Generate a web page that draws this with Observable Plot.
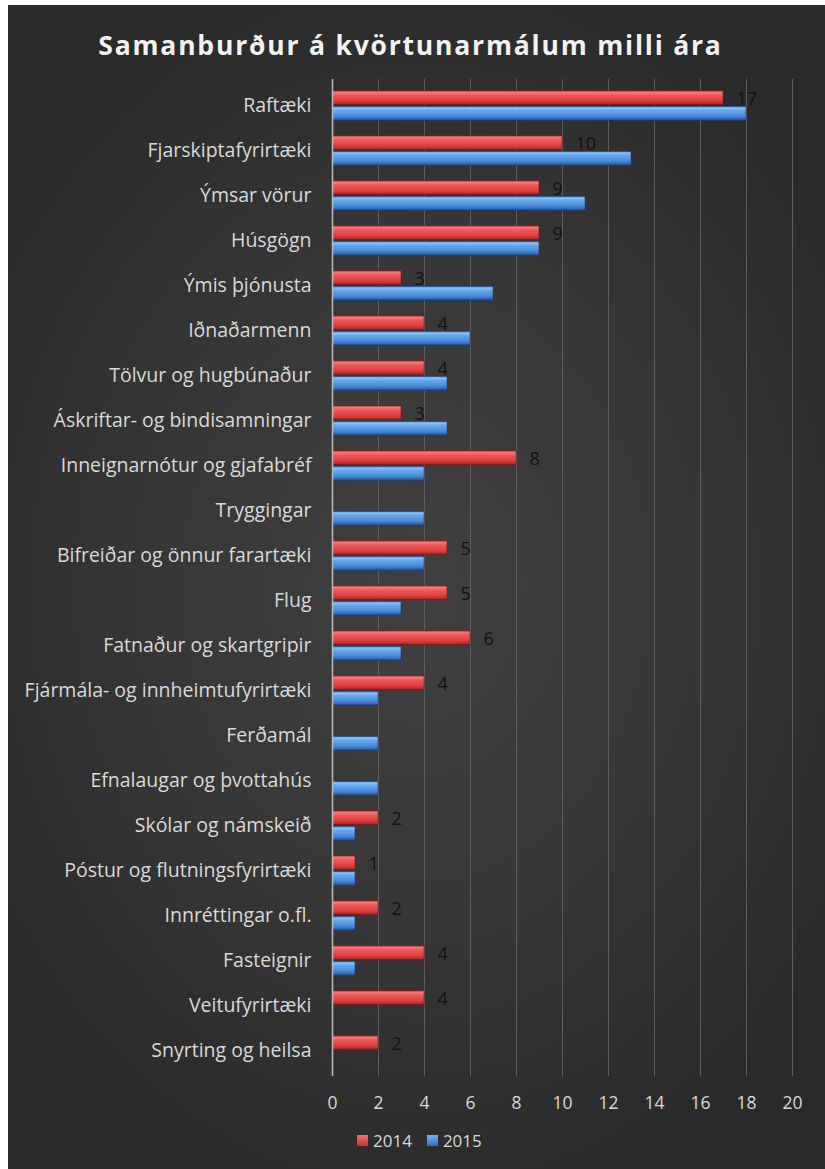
<!DOCTYPE html>
<html>
<head>
<meta charset="utf-8">
<script src="https://cdn.jsdelivr.net/npm/d3@7"></script>
<script src="https://cdn.jsdelivr.net/npm/@observablehq/plot@0.6"></script>
<style>
  body { margin: 0; background: #ffffff; width: 825px; height: 1169px; overflow: hidden; }
  #panel { position: absolute; left: 8px; top: 5px; width: 817px; height: 1164px;
    background: radial-gradient(ellipse 62% 55% at 50% 50%, #404040 0%, #373737 50%, #2a2a2a 100%);
    font-family: "Open Sans", "Noto Sans", sans-serif; }
  #title { position: absolute; top: 22px; left: 0; width: 805px; text-align: center;
    font-size: 26.5px; font-weight: 700; letter-spacing: 1.8px; color: #f2f2f2; line-height: 36px; }
  #chart { position: absolute; left: 0; top: 0; }
  #legend { position: absolute; left: 349px; top: 1124px; font-size: 17px; color: #d9d9d9;
    display: flex; align-items: center; }
  .sw { display: inline-block; width: 11px; height: 11px; margin-right: 5px; }
  #chart svg g[aria-label="y-axis tick label"] text, #chart svg g[aria-label="y-axis"] text { font-size: 19.5px; }
  #chart svg g[aria-label="x-axis tick label"] text, #chart svg g[aria-label="x-axis"] text { font-size: 17.5px; }
</style>
</head>
<body>
<div id="panel">
  <div id="title">Samanburður á kvörtunarmálum milli ára</div>
  <div id="chart"></div>
  <div id="legend">
    <span class="sw" style="background:linear-gradient(#f07070,#c83030)"></span><span style="margin-right:15px">2014</span>
    <span class="sw" style="background:linear-gradient(#7ab4f0,#2e6cc0)"></span><span>2015</span>
  </div>
</div>
<script>
const categories = [
  "Raftæki", "Fjarskiptafyrirtæki", "Ýmsar vörur", "Húsgögn", "Ýmis þjónusta",
  "Iðnaðarmenn", "Tölvur og hugbúnaður", "Áskriftar- og bindisamningar",
  "Inneignarnótur og gjafabréf", "Tryggingar", "Bifreiðar og önnur farartæki",
  "Flug", "Fatnaður og skartgripir", "Fjármála- og innheimtufyrirtæki", "Ferðamál",
  "Efnalaugar og þvottahús", "Skólar og námskeið", "Póstur og flutningsfyrirtæki",
  "Innréttingar o.fl.", "Fasteignir", "Veitufyrirtæki", "Snyrting og heilsa"
];
const values2014 = [17, 10, 9, 9, 3, 4, 4, 3, 8, 0, 5, 5, 6, 4, 0, 0, 2, 1, 2, 4, 4, 2];
const values2015 = [18, 13, 11, 9, 7, 6, 5, 5, 4, 4, 4, 3, 3, 2, 2, 2, 1, 1, 1, 1, 0, 0];
const xTicks = [0, 2, 4, 6, 8, 10, 12, 14, 16, 18, 20];

const d14 = categories.map((c, i) => ({cat: c, v: values2014[i]})).filter(d => d.v > 0);
const d15 = categories.map((c, i) => ({cat: c, v: values2015[i]})).filter(d => d.v > 0);

const bw = 997 / 22;
const half = bw / 2;

const chart = Plot.plot({
  width: 817,
  height: 1115,
  marginTop: 74,
  marginBottom: 44,
  marginLeft: 324,
  marginRight: 33,
  style: { background: "transparent", color: "#d9d9d9", fontFamily: "'Open Sans', 'Noto Sans', sans-serif" },
  x: { domain: [0, 20], ticks: xTicks, grid: false, label: null, tickSize: 0, tickPadding: 20 },
  y: { domain: categories, padding: 0, label: null, tickSize: 0, tickPadding: 21 },
  marks: [
    Plot.ruleX(xTicks.filter(t => t > 0), { stroke: "#5e5e5e", strokeWidth: 1 }),
    Plot.barX(d15, { x: "v", y: "cat", fill: "url(#g15)", insetTop: half + 0.5, insetBottom: half - 15, stroke: "#1d3f73", strokeWidth: 0.6 }),
    Plot.barX(d14, { x: "v", y: "cat", fill: "url(#g14)", insetTop: half - 15, insetBottom: half + 0.5, stroke: "#7a1a1a", strokeWidth: 0.6 }),
    Plot.ruleX([0], { stroke: "#b5b5b5", strokeWidth: 1.6 }),
    Plot.text(d14, { x: "v", y: "cat", text: d => String(d.v), dx: 13, dy: -7, textAnchor: "start", fill: "#111111", fontSize: 18 })
  ]
});

const svg = d3.select(chart);
const defs = svg.insert("defs", ":first-child");
function grad(id, stops) {
  const g = defs.append("linearGradient").attr("id", id).attr("x1", 0).attr("y1", 0).attr("x2", 0).attr("y2", 1);
  stops.forEach(([o, c]) => g.append("stop").attr("offset", o).attr("stop-color", c));
}
grad("g14", [[0, "#b83030"], [0.12, "#f47a7a"], [0.3, "#ee5a5a"], [0.7, "#dc4040"], [0.88, "#c03030"], [1, "#7e1d1d"]]);
grad("g15", [[0, "#2c62b0"], [0.12, "#8cc4f6"], [0.3, "#66a8ec"], [0.7, "#4a8ad8"], [0.88, "#3468b8"], [1, "#1d3f73"]]);

document.getElementById("chart").appendChild(chart);
</script>
</body>
</html>
